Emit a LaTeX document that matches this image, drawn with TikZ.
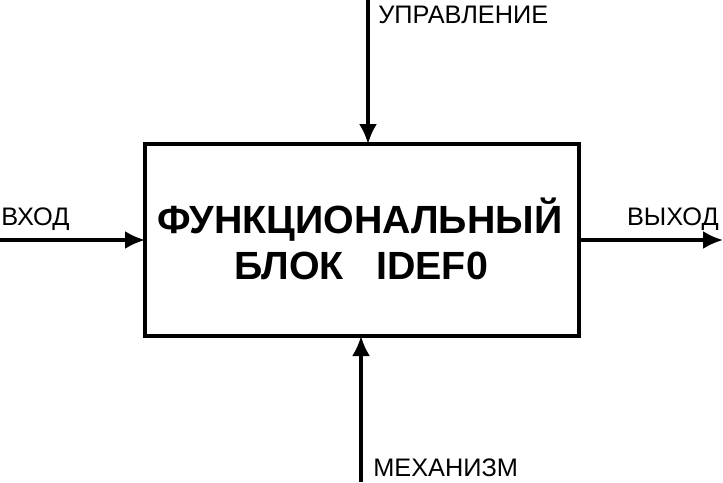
\documentclass[tikz,border=0pt]{standalone}
\usepackage{fontspec}
\setmainfont{Liberation Sans}
\usetikzlibrary{arrows.meta}

\begin{document}
\begin{tikzpicture}[x=0.75pt, y=-0.75pt,
    funcblock/.style={rectangle, draw, line width=2.8pt, minimum width=325.5pt, minimum height=144pt, inner sep=0pt, outer sep=0pt},
    title/.style={font=\bfseries\fontsize{29.5}{34}\selectfont, inner sep=0pt, anchor=base},
    line/.style={draw, line width=2.4pt, -{Latex[length=15pt, width=13.5pt]}},
    lbl/.style={font=\fontsize{19}{21}\selectfont, inner sep=0pt}]

    \useasboundingbox (0,0) rectangle (723,482);

    \node [funcblock] (blk) at (362,240) {};
    \node [title] (title1) at (360,233) {ФУНКЦИОНАЛЬНЫЙ};
    \node [title] (title2) at (361,279) {БЛОК\ \ \ IDEF0};

    % arrows
    \coordinate (in) at (0,240);
    \coordinate (out) at (723,240);
    \coordinate (ctl) at (368,0);
    \coordinate (mech) at (361,482);
    \path [line] (in) -- (blk.west);
    \path [line] (blk.east) -- (out);
    \path [line] (ctl) -- (blk.north -| ctl);
    \path [line] (mech) -- (blk.south -| mech);

    % labels
    \node [lbl, anchor=base west] (inlbl) at (1,225) {ВХОД};
    \node [lbl, anchor=base east] (outlbl) at (719,225) {ВЫХОД};
    \node [lbl, anchor=base west] (ctllbl) at (378,23) {УПРАВЛЕНИЕ};
    \node [lbl, anchor=base west] (mechlbl) at (373,476) {МЕХАНИЗМ};
\end{tikzpicture}
\end{document}
